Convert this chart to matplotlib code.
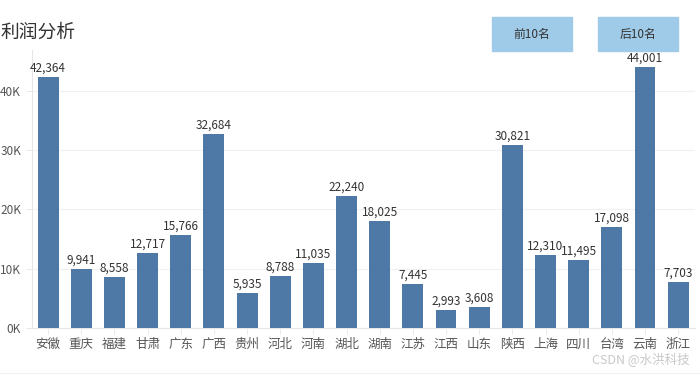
import matplotlib
matplotlib.use("Agg")
import matplotlib.pyplot as plt
from matplotlib.patches import Rectangle

plt.rcParams['font.family'] = ['Noto Sans CJK SC', 'DejaVu Sans']

provinces = ["安徽", "重庆", "福建", "甘肃", "广东", "广西", "贵州", "河北", "河南", "湖北",
             "湖南", "江苏", "江西", "山东", "陕西", "上海", "四川", "台湾", "云南", "浙江"]
profit = [42364, 9941, 8558, 12717, 15766, 32684, 5935, 8788, 11035, 22240,
          18025, 7445, 2993, 3608, 30821, 12310, 11495, 17098, 44001, 7703]
yticks = [0, 10000, 20000, 30000, 40000]
ytick_labels = ["0K", "10K", "20K", "30K", "40K"]
buttons = ["前10名", "后10名"]


def main():
    fig = plt.figure(figsize=(7, 3.74), dpi=100)
    ax = fig.add_axes([0.045, 0.123, 0.9475, 0.743])

    xs = range(len(provinces))
    ax.bar(xs, profit, width=0.63, color="#4e79a7", zorder=3)
    for x, v in zip(xs, profit):
        ax.text(x, v + 400, f"{v:,}", ha="center", va="bottom",
                fontsize=8.5, color="#333333", zorder=4)

    ax.set_xlim(-0.5, len(provinces) - 0.5)
    ax.set_ylim(0, 46900)
    ax.set_xticks(list(xs))
    ax.set_xticklabels(provinces, fontsize=9, color="#555555")
    ax.set_yticks(yticks)
    ax.set_yticklabels(ytick_labels, fontsize=8.5, color="#555555")
    ax.tick_params(axis="both", length=4, width=0.6, color="#e6e6e6")
    ax.tick_params(axis="x", pad=3)
    ax.grid(axis="y", color="#f0f0f0", linewidth=0.8, zorder=0)

    for side in ["top", "right"]:
        ax.spines[side].set_visible(False)
    ax.spines["left"].set_color("#e6e6e6")
    ax.spines["bottom"].set_color("#e6e6e6")

    fig.text(0.0, 0.915, "利润分析", fontsize=13.5, color="#333333", va="center", ha="left")

    # filter buttons
    for i, label in enumerate(buttons):
        x0 = (492 + i * 106) / 700
        fig.patches.append(Rectangle((x0, 1 - 51 / 374), 80 / 700, 34 / 374,
                                     transform=fig.transFigure, color="#a0cbe8"))
        fig.text(x0 + 40 / 700, 1 - 34 / 374, label, fontsize=8.5,
                 color="#333333", ha="center", va="center")

    fig.text(0.985, 0.04, "CSDN @水洪科技", fontsize=9, color="#c8c8c8",
             ha="right", va="center")
    fig.lines.append(plt.Line2D([0, 1], [0.003, 0.003], transform=fig.transFigure,
                                color="#f0f0f0", linewidth=0.8))

    fig.savefig("out.png", dpi=100)


if __name__ == "__main__":
    main()
